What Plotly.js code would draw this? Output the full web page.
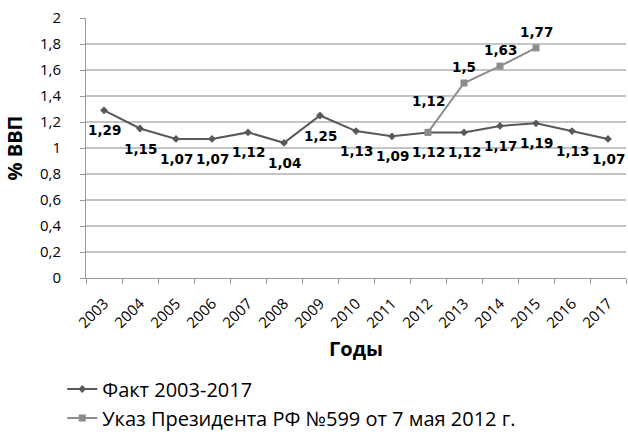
<!DOCTYPE html>
<html><head><meta charset="utf-8">
<script src="https://cdn.plot.ly/plotly-3.0.1.min.js"></script>
<style>body{margin:0;background:#fff}#c{width:628px;height:432px}</style>
</head><body><div id="c"></div>
<script>
const years = ['2003','2004','2005','2006','2007','2008','2009','2010','2011','2012','2013','2014','2015','2016','2017'];
const fact = [1.29,1.15,1.07,1.07,1.12,1.04,1.25,1.13,1.09,1.12,1.12,1.17,1.19,1.13,1.07];
const ukazYears = ['2012','2013','2014','2015'];
const ukaz = [1.12,1.5,1.63,1.77];
const yTicks = [0,0.2,0.4,0.6,0.8,1,1.2,1.4,1.6,1.8,2];
const fmt = v => String(v).replace('.', ',');

const labelFont = {family:'DejaVu Sans', size:13.5, color:'#000', weight:'bold'};
const traces = [
  {x:years, y:fact, name:'Факт 2003-2017', type:'scatter', mode:'lines+markers',
   line:{color:'#595959', width:2}, marker:{symbol:'diamond', size:6, color:'#595959'}},
  {x:ukazYears, y:ukaz, name:'Указ Президента РФ №599 от 7 мая 2012 г.', type:'scatter', mode:'lines+markers',
   line:{color:'#8c8c8c', width:2}, marker:{symbol:'square', size:7, color:'#8c8c8c'}}
];
const annFact = years.map((yr,i)=>({x:i, y:fact[i], xref:'x', yref:'y', text:fmt(fact[i]), showarrow:false,
  yanchor:'top', yshift:-10, font:labelFont}));
const annUkaz = ukazYears.map((yr,i)=>({x:years.indexOf(yr), y:ukaz[i], xref:'x', yref:'y', text:fmt(ukaz[i]), showarrow:false,
  yanchor:'bottom', yshift: i===0 ? 21 : 6, font:labelFont}));

Plotly.newPlot('c', traces, {
  width:628, height:432, margin:{l:86, r:2, t:18, b:154, autoexpand:false},
  paper_bgcolor:'#fff', plot_bgcolor:'#fff', showlegend:true,
  font:{family:'Open Sans', color:'#000'},
  xaxis:{type:'category', categoryorder:'array', categoryarray:years, range:[-0.5,14.5], tickangle:-45, ticks:'outside', tickson:'boundaries',
    ticklen:5, tickcolor:'#999', showline:true, linecolor:'#999', showgrid:false, automargin:false,
    tickfont:{size:15, family:'Open Sans'}, ticklabelstandoff:10,
    title:{text:'Годы', font:{size:20, family:'Open Sans', weight:'bold'}, standoff:11}},
  yaxis:{range:[0,2], tickvals:yTicks, ticktext:yTicks.map(fmt), showline:true, linecolor:'#999', automargin:false,
    gridcolor:'#c4c4c4', gridwidth:1.5, zeroline:false, ticks:'outside', ticklen:5, tickcolor:'#999',
    tickfont:{size:15, family:'Open Sans'}, ticklabelstandoff:16,
    title:{text:'% ВВП', font:{size:20, family:'Open Sans', weight:'bold'}, standoff:11}},
  legend:{x:-0.044, xanchor:'left', y:-0.352, yanchor:'top', orientation:'v',
    font:{size:20, family:'Open Sans'}, itemwidth:30},
  annotations:annFact.concat(annUkaz)
}, {staticPlot:true});
</script></body></html>
